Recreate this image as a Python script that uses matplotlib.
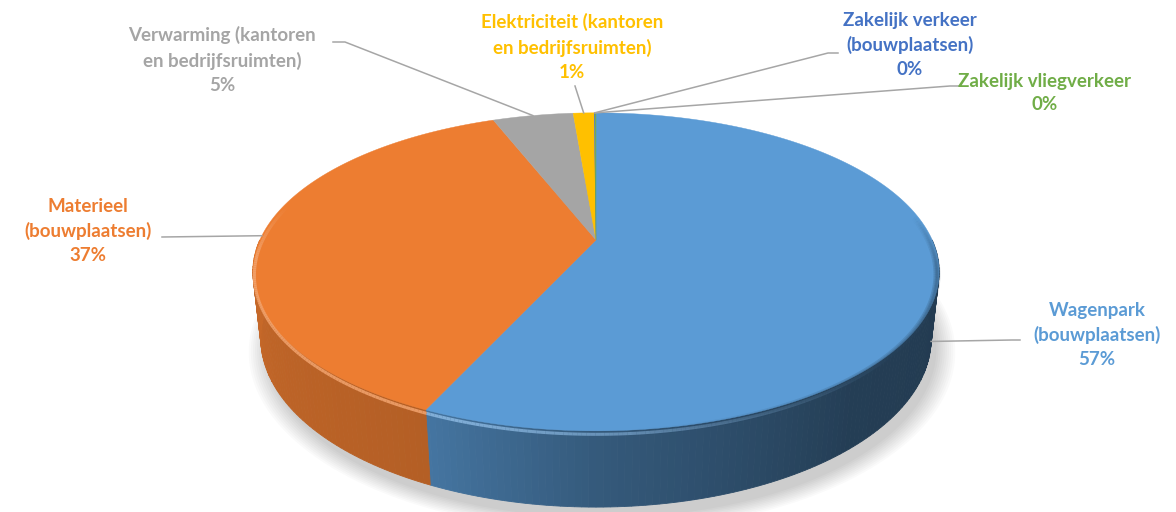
import numpy as np
import matplotlib.pyplot as plt
from matplotlib.collections import LineCollection

labels = ['Wagenpark\n(bouwplaatsen)', 'Materieel\n(bouwplaatsen)',
          'Verwarming (kantoren\nen bedrijfsruimten)', 'Elektriciteit (kantoren\nen bedrijfsruimten)',
          'Zakelijk verkeer\n(bouwplaatsen)', 'Zakelijk vliegverkeer']
values = [56.8, 37.3, 4.6, 1.2, 0.05, 0.05]
colors = ['#5B9BD5', '#ED7D31', '#A5A5A5', '#FFC000', '#4472C4', '#70AD47']

# label layout (pixel space): text centre, leader start point(s), z of leader end
label_pos = [(1097, 335), (88, 231), (222, 60), (572, 47), (910, 45), (1045, 93)]
leader_start = [[(1020, 340), (1012, 340)], [(162, 237)], [(333, 42), (345, 42)],
                [(575, 86)], [(838, 53), (828, 53)], [(960, 86), (950, 86)]]
leader_z = [-1.0, 0, 0, 0, 0, 0]

# camera
elev = np.radians(27)
D = 4.45
F = 1496
H = 0.224
cx, cy = 596, 240
s, c = np.sin(elev), np.cos(elev)


def proj(theta, r=1.0, z=0.0):
    t = np.radians(theta)
    X = r * np.sin(t)
    Y = r * np.cos(t)
    depth = D + Y * c - z * s
    up = Y * s + z * c
    return cx + F * X / depth, cy - F * up / depth


def shade(col, f):
    rgb = np.array(plt.matplotlib.colors.to_rgb(col))
    return tuple(np.clip(rgb * f, 0, 1))


def lighten(col, f):
    rgb = np.array(plt.matplotlib.colors.to_rgb(col))
    return tuple(rgb + (1 - rgb) * f)


def rim(a0, a1, col, lw, alpha_fn, r=0.997, z=-0.012):
    tt = np.linspace(a0, a1, 120)
    xs, ys = proj(tt, r, z)
    segs = [[(xs[k], ys[k]), (xs[k + 1], ys[k + 1])] for k in range(len(tt) - 1)]
    mids = (tt[:-1] + tt[1:]) / 2
    cols = [(*col, alpha_fn(m)) for m in mids]
    ax.add_collection(LineCollection(segs, colors=cols, linewidths=lw,
                                     capstyle='butt'))


fig = plt.figure(figsize=(11.76, 5.12), dpi=100)
ax = fig.add_axes([0, 0, 1, 1])
ax.set_xlim(0, 1176)
ax.set_ylim(512, 0)
ax.axis('off')

fracs = np.array(values) / sum(values)
starts = np.concatenate([[0], np.cumsum(fracs)[:-1]]) * 360
ends = np.cumsum(fracs) * 360

# soft shadow
th = np.linspace(0, 360, 361)
for k in range(10):
    r = 1.0 + 0.006 * k
    xs, ys = proj(th, r, -H - 0.02)
    ax.fill(xs + 6, ys + 4, color='black', alpha=0.018, lw=0)

# side walls (front half only)
for i in range(len(values)):
    a0, a1 = max(starts[i], 90), min(ends[i], 270)
    if a1 <= a0:
        continue
    edges = np.arange(a0, a1, 1.0)
    edges = np.append(edges, a1)
    for j in range(len(edges) - 1):
        t0, t1 = edges[j], edges[j + 1]
        tt = np.linspace(t0, t1, 3)
        xt, yt = proj(tt, 1, 0)
        xb, yb = proj(tt[::-1], 1, -H)
        f = np.interp((t0 + t1) / 2, [90, 140, 180, 205, 240, 270],
                      [0.37, 0.40, 0.58, 0.76, 0.80, 0.85])
        col = shade(colors[i], f)
        ax.fill(np.concatenate([xt, xb]), np.concatenate([yt, yb]),
                color=col, lw=0.6, ec=col)

# top faces
for i in range(len(values)):
    if ends[i] - starts[i] < 0.01:
        continue
    tt = np.linspace(starts[i], ends[i], max(int((ends[i] - starts[i]) * 2), 2))
    xs, ys = proj(tt, 1, 0)
    ax.fill(np.concatenate([[cx], xs]), np.concatenate([[cy], ys]),
            color=colors[i], lw=0.3, ec=colors[i])

# rim highlight on the front edge, fading towards the right
for i in range(len(values)):
    a0, a1 = max(starts[i], 130), min(ends[i], 285)
    if a1 <= a0:
        continue
    rim(a0, a1, lighten(colors[i], 0.3), 2.2,
        lambda m: 0.85 * np.clip((m - 130) / 70, 0, 1) * np.clip((285 - m) / 20, 0, 1))

# soft dark rim on the right front
for w in [5, 3, 1.5]:
    rim(80, 175, shade(colors[0], 0.45), w,
        lambda m: 0.2 * np.clip((m - 80) / 20, 0, 1) * np.clip((175 - m) / 35, 0, 1),
        r=0.995, z=-0.01)

# leader lines and labels
for i in range(len(values)):
    mid = (starts[i] + ends[i]) / 2
    ex, ey = proj(mid, 1, leader_z[i] * H)
    pts = leader_start[i] + [(ex, ey)]
    ax.plot([p[0] for p in pts], [p[1] for p in pts], color='#A6A6A6', lw=1.1)
    pct = '%.0f%%' % (fracs[i] * 100)
    ax.text(label_pos[i][0], label_pos[i][1], labels[i] + '\n' + pct,
            ha='center', va='center', color=colors[i], fontsize=13.5,
            fontweight='bold', family=['Lato', 'DejaVu Sans'],
            linespacing=1.5)

fig.savefig('out.png', dpi=100)
